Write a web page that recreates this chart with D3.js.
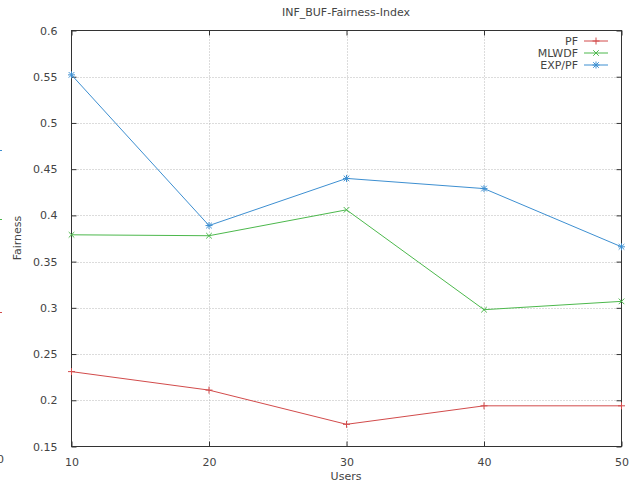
<!DOCTYPE html>
<html>
<head>
<meta charset="utf-8">
<script src="https://cdn.jsdelivr.net/npm/d3@7"></script>
<style>
  body { margin: 0; background: #fff; }
  text { font-family: 'DejaVu Sans', sans-serif; fill: #444; }
</style>
</head>
<body>
<div class="chart"></div>
<script>
'use strict';

// Data
const users = [10, 20, 30, 40, 50];
const pf = [0.231, 0.211, 0.174, 0.194, 0.194];
const mlwdf = [0.379, 0.378, 0.406, 0.298, 0.307];
const exppf = [0.552, 0.389, 0.440, 0.429, 0.366];
const seriesNames = ['PF', 'MLWDF', 'EXP/PF'];
const yTicks = [0.15, 0.2, 0.25, 0.3, 0.35, 0.4, 0.45, 0.5, 0.55, 0.6];
const xTicks = [10, 20, 30, 40, 50];

// Initialize
const w = 629;
const h = 485;
const plotL = 71.5, plotR = 621.5, plotT = 30.5, plotB = 446.5;
const colors = ['#d24b4b', '#4cb84c', '#3d8fd1'];
const symbols = ['plus', 'cross', 'star'];

const svg = d3.select('.chart')
              .append('svg')
              .attr('width', w)
              .attr('height', h);

// Scales
const xScale = d3.scaleLinear().domain([10, 50]).range([plotL, plotR]);
const yScale = d3.scaleLinear().domain([0.15, 0.6]).range([plotB, plotT]);

// Grid
svg.append('g')
  .selectAll('line')
  .data(yTicks.slice(1, -1))
  .enter()
  .append('line')
  .attr('x1', plotL).attr('x2', plotR)
  .attr('y1', d => Math.round(yScale(d)) + 0.5)
  .attr('y2', d => Math.round(yScale(d)) + 0.5)
  .attr('stroke', '#b8b8b8')
  .attr('stroke-dasharray', '1,2');

svg.append('g')
  .selectAll('line')
  .data(xTicks.slice(1, -1))
  .enter()
  .append('line')
  .attr('y1', plotT).attr('y2', plotB)
  .attr('x1', d => Math.round(xScale(d)) + 0.5)
  .attr('x2', d => Math.round(xScale(d)) + 0.5)
  .attr('stroke', '#b8b8b8')
  .attr('stroke-dasharray', '1,2');

// Axes (ticks inward, mirrored)
const yAxis = d3.axisLeft(yScale).tickValues(yTicks).tickSize(-5).tickPadding(14)
  .tickFormat(d3.format('~g'));
const xAxis = d3.axisBottom(xScale).tickValues(xTicks).tickSize(-5).tickPadding(12);

svg.append('g').attr('transform', `translate(${plotL},0)`).call(yAxis);
svg.append('g').attr('transform', `translate(0,${plotB})`).call(xAxis);
svg.append('g').attr('transform', `translate(${plotR},0)`)
  .call(d3.axisRight(yScale).tickValues(yTicks).tickSize(-5).tickFormat(''));
svg.append('g').attr('transform', `translate(0,${plotT})`)
  .call(d3.axisTop(xScale).tickValues(xTicks).tickSize(-5).tickFormat(''));

svg.selectAll('.domain').remove();
svg.selectAll('.tick line').attr('stroke', '#333');
svg.selectAll('.tick text').style('font-size', '11px').attr('fill', '#444');

// Border
svg.append('rect')
  .attr('x', plotL).attr('y', plotT)
  .attr('width', plotR - plotL).attr('height', plotB - plotT)
  .attr('fill', 'none').attr('stroke', '#333');

// Symbols
function marker(g, type, cx, cy, color) {
  const s = 3.5;
  const p = [];
  if (type === 'plus' || type === 'star') {
    p.push(`M${cx - s},${cy}H${cx + s}M${cx},${cy - s}V${cy + s}`);
  }
  if (type === 'cross' || type === 'star') {
    p.push(`M${cx - s * 0.8},${cy - s * 0.8}L${cx + s * 0.8},${cy + s * 0.8}M${cx - s * 0.8},${cy + s * 0.8}L${cx + s * 0.8},${cy - s * 0.8}`);
  }
  g.append('path').attr('d', p.join('')).attr('stroke', color).attr('stroke-width', 1).attr('fill', 'none');
}

// Lines
const allSeries = [pf, mlwdf, exppf];
const line = d3.line()
  .x((d, i) => xScale(users[i]))
  .y(d => yScale(d));

allSeries.forEach((vals, k) => {
  const g = svg.append('g');
  g.append('path')
    .datum(vals)
    .attr('d', line)
    .attr('fill', 'none')
    .attr('stroke', colors[k])
    .attr('stroke-width', 1);
  vals.forEach((v, i) => marker(g, symbols[k], xScale(users[i]), yScale(v), colors[k]));
});

// Legend
const legend = svg.selectAll('.legend')
  .data(seriesNames)
  .enter()
  .append('g')
  .attr('class', 'legend')
  .attr('transform', (d, i) => `translate(0, ${41 + i * 12})`);

legend.append('text')
  .attr('x', 578)
  .attr('dy', 4)
  .style('text-anchor', 'end')
  .style('font-size', '11px')
  .text(d => d);

legend.append('line')
  .attr('x1', 584).attr('x2', 608)
  .attr('stroke', (d, i) => colors[i]);

legend.each(function (d, i) { marker(d3.select(this), symbols[i], 596, 0, colors[i]); });

// Titles
svg.append('text')
  .attr('x', 346).attr('y', 16)
  .style('text-anchor', 'middle').style('font-size', '11px')
  .text('INF_BUF-Fairness-Index');

svg.append('text')
  .attr('x', 346).attr('y', 480)
  .style('text-anchor', 'middle').style('font-size', '11px')
  .text('Users');

svg.append('text')
  .attr('transform', 'translate(21,238) rotate(-90)')
  .style('text-anchor', 'middle').style('font-size', '11px')
  .text('Fairness');

// Cut-off remnants of a neighbouring chart at the left edge
svg.append('text')
  .attr('x', -3).attr('y', 463)
  .style('font-size', '11px')
  .text('0');

[[150, colors[2]], [219, colors[1]], [312, colors[0]]].forEach(([y, c]) => {
  svg.append('line')
    .attr('x1', 0).attr('x2', 2)
    .attr('y1', y + 0.5).attr('y2', y + 0.5)
    .attr('stroke', c);
});
</script>
</body>
</html>
